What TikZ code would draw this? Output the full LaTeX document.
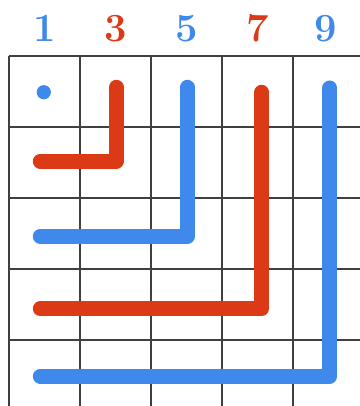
\documentclass[tikz,border=0pt]{standalone}
\usetikzlibrary{positioning}
\definecolor{oddblue}{HTML}{3F88EC}
\definecolor{oddred}{HTML}{DC3A16}

\begin{document}
\begin{tikzpicture}[x=1cm,y=1cm,
  every node/.style={font=\fontsize{16}{18}\selectfont\bfseries},
  bar/.style={line width=0.21cm,line cap=round,line join=round}]
  \useasboundingbox (-0.127,0.789) rectangle (4.944,-4.930);
  \clip (-0.127,0.789) rectangle (4.944,-4.930);
  \fill[white] (-0.127,0.789) rectangle (4.944,-4.930);
  \draw[line width=0.5pt,black!75] (0,0) grid (5.3,-5.3);
  % odd numbers on top
  \node[text=oddblue] (n1) at (0.51,0.39) {1};
  \node[text=oddred]  (n3) at (1.51,0.39) {3};
  \node[text=oddblue] (n5) at (2.50,0.39) {5};
  \node[text=oddred]  (n7) at (3.50,0.39) {7};
  \node[text=oddblue] (n9) at (4.46,0.39) {9};
  % the L shapes
  \fill[oddblue] (0.49,-0.51) circle (0.1);
  \draw[bar,oddred]  (1.51,-0.44) -- (1.51,-1.48) -- (0.44,-1.48);
  \draw[bar,oddblue] (2.51,-0.44) -- (2.51,-2.54) -- (0.44,-2.54);
  \draw[bar,oddred]  (3.56,-0.51) -- (3.56,-3.56) -- (0.44,-3.56);
  \draw[bar,oddblue] (4.52,-0.45) -- (4.52,-4.51) -- (0.44,-4.51);
\end{tikzpicture}
\end{document}
